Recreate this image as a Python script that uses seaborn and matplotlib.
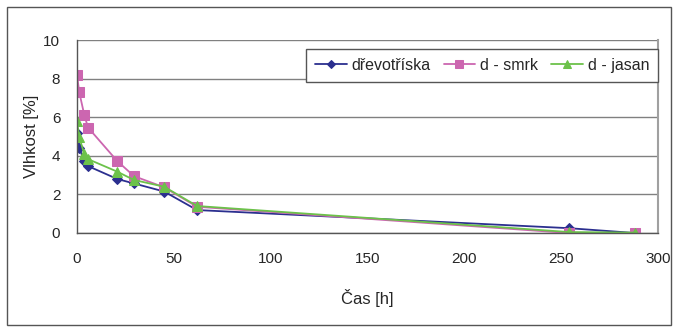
import matplotlib
matplotlib.use("Agg")
import matplotlib.pyplot as plt
import seaborn as sns
import pandas as pd
from matplotlib.patches import Rectangle

# Data
time_h = [0, 1.2, 3.8, 5.7, 20.8, 29.4, 45, 62, 254, 288]
drevotriska = [5.2, 4.39, 3.73, 3.47, 2.8, 2.57, 2.15, 1.19, 0.25, 0.0]
d_smrk = [8.19, 7.29, 6.11, 5.47, 3.73, 2.95, 2.37, 1.36, 0.0, 0.0]
d_jasan = [5.8, 4.96, 4.08, 3.83, 3.18, 2.75, 2.4, 1.4, 0.05, 0.02]
series_names = ["dřevotříska", "d - smrk", "d - jasan"]
x_ticks = [0, 50, 100, 150, 200, 250, 300]
y_ticks = [0, 2, 4, 6, 8, 10]

rows = []
for name, vals in zip(series_names, [drevotriska, d_smrk, d_jasan]):
    for t, v in zip(time_h, vals):
        rows.append({"Čas": t, "Vlhkost": v, "série": name})
df = pd.DataFrame(rows)

sns.set_style("white")
plt.rcParams["font.family"] = ["Liberation Sans", "DejaVu Sans"]

fig = plt.figure(figsize=(6.77, 3.29), dpi=100)
ax = fig.add_axes([0.1137, 0.2918, 0.972 - 0.1137, 0.878 - 0.2918])

palette = {"dřevotříska": "#2B2F8F", "d - smrk": "#CC66B0", "d - jasan": "#6CC24A"}
markers = {"dřevotříska": "D", "d - smrk": "s", "d - jasan": "^"}
sizes_m = {"dřevotříska": 5, "d - smrk": 7, "d - jasan": 7.5}

for name in series_names:
    sub = df[df["série"] == name]
    sns.lineplot(data=sub, x="Čas", y="Vlhkost", ax=ax, color=palette[name],
                 marker=markers[name], markersize=sizes_m[name],
                 markeredgecolor=palette[name], linewidth=1.3, label=name,
                 sort=False, estimator=None)

ax.set_xlim(0, 300)
ax.set_ylim(0, 10)
ax.set_xticks(x_ticks)
ax.set_yticks(y_ticks)
ax.set_xticklabels([str(t) for t in x_ticks], fontsize=11)
ax.set_yticklabels([str(t) for t in y_ticks], fontsize=11)
ax.yaxis.grid(True, color="#808080", linewidth=1.0)
ax.set_axisbelow(True)
ax.tick_params(axis="both", direction="out", length=4, width=1, color="#555555", pad=8)
ax.tick_params(axis="x", pad=10)
for s in ["left", "bottom"]:
    ax.spines[s].set_color("#555555")
    ax.spines[s].set_linewidth(1)
ax.spines["right"].set_color("#A0A0A0")
ax.spines["right"].set_linewidth(1.5)
ax.spines["top"].set_visible(False)

ax.set_xlabel("Čas [h]", fontsize=12, labelpad=16)
ax.set_ylabel("Vlhkost [%]", fontsize=12, labelpad=3)

leg = ax.legend(loc="upper right", bbox_to_anchor=(1.0, 0.953), borderaxespad=0,
                ncol=3, fontsize=11.5,
                frameon=True, fancybox=False, framealpha=1, edgecolor="#555555",
                handlelength=2.0, columnspacing=0.8, handletextpad=0.3,
                borderpad=0.55, markerscale=0.85)
leg.get_frame().set_linewidth(1)

fig.patches.append(Rectangle((7 / 677, 4 / 329), 664 / 677, 318 / 329,
                             transform=fig.transFigure, fill=False,
                             edgecolor="#555555", linewidth=1))

fig.savefig("out.png", dpi=100)
